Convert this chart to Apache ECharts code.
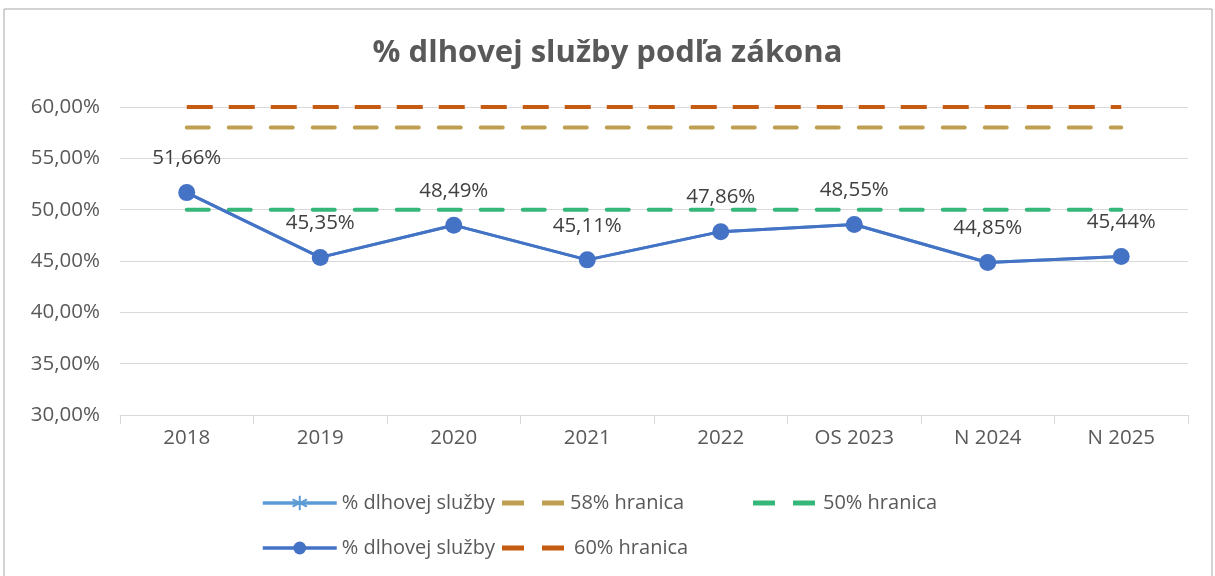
<!DOCTYPE html>
<html>
<head>
<meta charset="utf-8">
<script src="https://cdn.jsdelivr.net/npm/echarts@6/dist/echarts.min.js"></script>
<style>
  html, body { margin: 0; padding: 0; background: #fff; }
  #chart { width: 1215px; height: 576px; }
</style>
</head>
<body>
<div id="chart"></div>
<script>
const categories = ["2018", "2019", "2020", "2021", "2022", "OS 2023", "N 2024", "N 2025"];
const debtService = [51.66, 45.35, 48.49, 45.11, 47.86, 48.55, 44.85, 45.44];
const limit60 = [60, 60, 60, 60, 60, 60, 60, 60];
const limit58 = [58, 58, 58, 58, 58, 58, 58, 58];
const limit50 = [50, 50, 50, 50, 50, 50, 50, 50];

const font = "Open Sans";
const fmt = (v) => v.toFixed(2).replace(".", ",") + "%";

const chart = echarts.init(document.getElementById("chart"));

// dve čiarky ako ikona pre prerušované hranice
const dashIcon = "path://M0,0h22v5h-22zM40,0h22v5h-22z";

// legenda po jednej položke, aby sedelo rozloženie
const legendBase = {
  itemWidth: 74,
  itemHeight: 16,
  itemGap: 0,
  lineStyle: { width: 3.5 },
  textStyle: { fontFamily: font, fontSize: 20, color: "#595959" },
  selectedMode: false,
};

chart.setOption({
  backgroundColor: "#fff",
  animation: false,
  title: {
    text: "% dlhovej služby podľa zákona",
    left: "center",
    top: 33,
    textStyle: { fontFamily: font, fontSize: 31, fontWeight: "bold", color: "#595959" },
  },
  graphic: [
    {
      type: "rect",
      shape: { x: 4, y: 9, width: 1208, height: 580 },
      style: { fill: "none", stroke: "#a6a6a6", lineWidth: 1 },
    },
  ],
  legend: [
    Object.assign({}, legendBase, { data: ["% dlhovej služby\u200b"], left: 256, top: 488, itemHeight: 18 }),
    Object.assign({}, legendBase, {
      data: [{ name: "58% hranica", icon: dashIcon }], left: 497, top: 488, itemWidth: 64, itemHeight: 5,
    }),
    Object.assign({}, legendBase, {
      data: [{ name: "50% hranica", icon: dashIcon }], left: 748, top: 488, itemWidth: 68, itemHeight: 5,
    }),
    Object.assign({}, legendBase, { data: ["% dlhovej služby"], left: 256, top: 533 }),
    Object.assign({}, legendBase, {
      data: [{ name: "60% hranica", icon: dashIcon }], left: 497, top: 533, itemWidth: 72, itemHeight: 5,
    }),
  ],
  grid: { left: 120, right: 27, top: 107, bottom: 161 },
  xAxis: {
    type: "category",
    data: categories,
    boundaryGap: true,
    axisLine: { lineStyle: { color: "#d9d9d9", width: 1 } },
    axisTick: { show: true, length: 9, lineStyle: { color: "#d9d9d9" } },
    axisLabel: { fontFamily: font, fontSize: 20.5, color: "#595959", margin: 13 },
  },
  yAxis: {
    type: "value",
    min: 30,
    max: 60,
    interval: 5,
    axisLine: { show: false },
    axisTick: { show: false },
    axisLabel: {
      fontFamily: font,
      fontSize: 20.5,
      color: "#595959",
      margin: 20,
      formatter: (v) => fmt(v),
    },
    splitLine: { lineStyle: { color: "#d9d9d9", width: 1 } },
  },
  series: [
    {
      name: "% dlhovej služby\u200b",
      type: "line",
      data: debtService,
      symbol: "path://M0,-10L0,10M-8.66,-5L8.66,5M-8.66,5L8.66,-5",
      symbolSize: 16,
      showSymbol: false,
      lineStyle: { color: "#5B9BD5", width: 3 },
      itemStyle: { color: "#5B9BD5", borderColor: "#5B9BD5", borderWidth: 1.5 },
      z: 1,
    },
    {
      name: "58% hranica",
      type: "line",
      data: limit58,
      symbol: "none",
      lineStyle: { color: "#BF9F52", width: 4, type: [22, 20], cap: "round" },
      itemStyle: { color: "#BF9F52" },
      z: 2,
    },
    {
      name: "50% hranica",
      type: "line",
      data: limit50,
      symbol: "none",
      lineStyle: { color: "#35B779", width: 4, type: [22, 20], cap: "round" },
      itemStyle: { color: "#35B779" },
      z: 2,
    },
    {
      name: "60% hranica",
      type: "line",
      data: limit60,
      symbol: "none",
      lineStyle: { color: "#C55A11", width: 4, type: [26, 16] },
      itemStyle: { color: "#C55A11" },
      z: 2,
    },
    {
      name: "% dlhovej služby",
      type: "line",
      data: debtService,
      symbol: "circle",
      symbolSize: 17,
      lineStyle: { color: "#4472C4", width: 3 },
      itemStyle: { color: "#4472C4" },
      label: {
        show: true,
        position: "top",
        distance: 15,
        fontFamily: font,
        fontSize: 20.5,
        color: "#404040",
        formatter: (p) => fmt(p.value),
      },
      z: 3,
    },
  ],
});
</script>
</body>
</html>
